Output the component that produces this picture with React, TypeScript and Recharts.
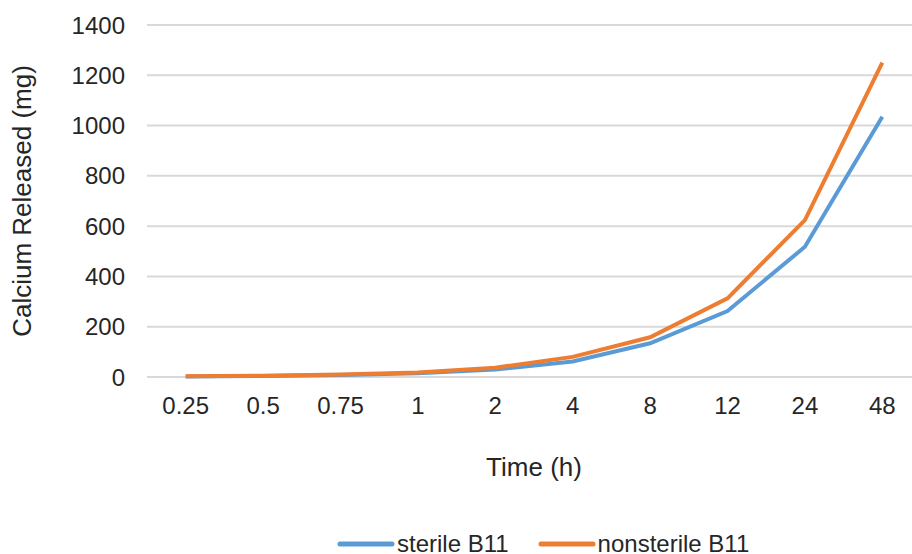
import { LineChart, Line, XAxis, YAxis, CartesianGrid, Legend, Label } from 'recharts'

// Sampling times (h) and cumulative calcium released (mg)
const times = ['0.25', '0.5', '0.75', '1', '2', '4', '8', '12', '24', '48']
const sterileB11 = [2, 4, 8, 15, 30, 62, 134, 262, 518, 1035]
const nonsterileB11 = [3, 5, 10, 18, 37, 80, 158, 313, 624, 1250]
const yTicks = [0, 200, 400, 600, 800, 1000, 1200, 1400]
const seriesOrder = ['sterile B11', 'nonsterile B11']

const rows = times.map((t, i) => ({
  time: t,
  sterile: sterileB11[i],
  nonsterile: nonsterileB11[i],
}))

const FONT = '"Liberation Sans", Arial, sans-serif'
const TEXT = '#262626'
const BLUE = '#5b9bd5'
const ORANGE = '#ed7d31'

interface LegendEntry {
  value?: string
  color?: string
}

// Legend keeps series order (recharts sorts entries by name otherwise)
function LineLegend({ payload }: { payload?: LegendEntry[] }) {
  if (!payload) return null
  const items = [...payload].sort(
    (a, b) => seriesOrder.indexOf(a.value ?? '') - seriesOrder.indexOf(b.value ?? ''),
  )
  return (
    <div
      style={{
        display: 'flex',
        paddingLeft: 337,
        marginTop: 6,
        gap: 29,
        fontFamily: FONT,
        fontSize: 24,
        color: TEXT,
      }}
    >
      {items.map((p) => (
        <div key={p.value} style={{ display: 'flex', alignItems: 'center' }}>
          <svg width={58} height={10}>
            <line x1={3} y1={5} x2={55} y2={5} stroke={p.color} strokeWidth={5} strokeLinecap="round" />
          </svg>
          <span style={{ marginLeft: 2 }}>{p.value}</span>
        </div>
      ))}
    </div>
  )
}

function YTitle({ viewBox }: { viewBox?: { x: number; y: number; width: number; height: number } }) {
  if (!viewBox) return null
  const cx = 22
  const cy = viewBox.y + viewBox.height / 2
  return (
    <text
      x={cx}
      y={cy}
      transform={`rotate(-90 ${cx} ${cy})`}
      textAnchor="middle"
      dominantBaseline="central"
      fontFamily={FONT}
      fontSize={26}
      fill={TEXT}
    >
      Calcium Released (mg)
    </text>
  )
}

export default function App() {
  return (
    <div style={{ position: 'absolute', left: 0, top: 0, width: 912, height: 554, overflow: 'hidden', background: '#fff' }}>
      <LineChart width={930} height={554} data={rows} margin={{ top: 25, right: 9, left: 0, bottom: 0 }}>
        <CartesianGrid vertical={false} stroke="#d9d9d9" strokeWidth={2} />
        <XAxis
          dataKey="time"
          axisLine={false}
          tickLine={false}
          tickMargin={14}
          height={147}
          padding={{ left: 38.7, right: 38.7 }}
          interval={0}
          tick={{ fontFamily: FONT, fontSize: 24, fill: TEXT }}
        >
          <Label value="Time (h)" position="insideTop" offset={81} fontFamily={FONT} fontSize={26} fill={TEXT} />
        </XAxis>
        <YAxis
          width={147}
          domain={[0, 1400]}
          ticks={yTicks}
          axisLine={false}
          tickLine={false}
          tickMargin={16}
          tick={{ fontFamily: FONT, fontSize: 24, fill: TEXT }}
        >
          <Label content={<YTitle />} />
        </YAxis>
        <Legend verticalAlign="bottom" height={30} content={<LineLegend />} />
        <Line
          dataKey="sterile"
          name="sterile B11"
          stroke={BLUE}
          strokeWidth={4}
          dot={false}
          isAnimationActive={false}
        />
        <Line
          dataKey="nonsterile"
          name="nonsterile B11"
          stroke={ORANGE}
          strokeWidth={4}
          dot={false}
          isAnimationActive={false}
        />
      </LineChart>
    </div>
  )
}
